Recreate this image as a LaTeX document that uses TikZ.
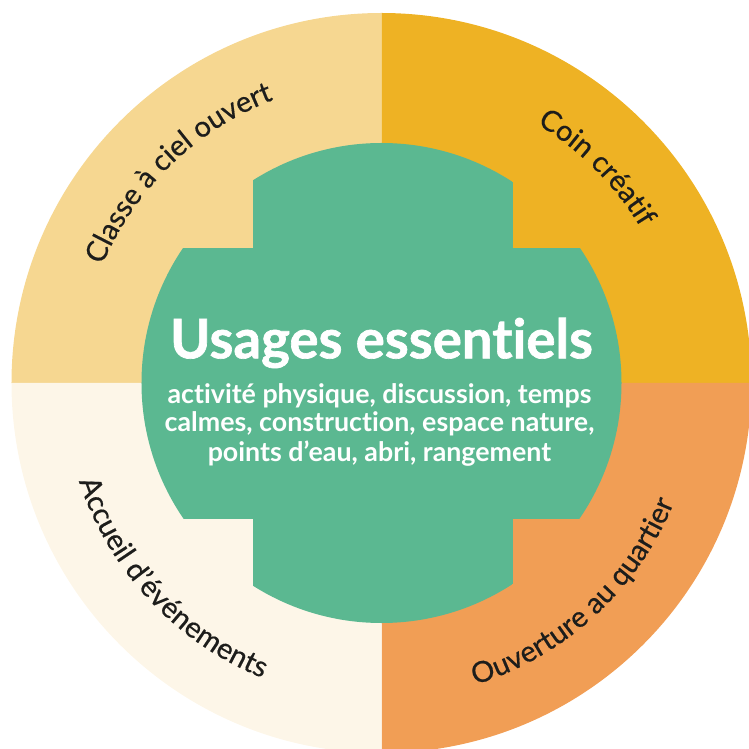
\documentclass[tikz,border=0pt]{standalone}
\usepackage{fontspec}
\setmainfont{Lato}[Ligatures=NoCommon]
\newfontfamily\titlefont{Lato}[Ligatures=NoCommon, BoldFeatures={FakeBold=1.2}]
\newfontfamily\labelfont{Lato}[FakeBold=0.5]
\usetikzlibrary{decorations.text}
\definecolor{ciel}{HTML}{F6D791}
\definecolor{creatif}{HTML}{EEB224}
\definecolor{quartier}{HTML}{F19E55}
\definecolor{accueil}{HTML}{FDF6E8}
\definecolor{usages}{HTML}{5BB891}
\definecolor{labeltext}{HTML}{1D1D1B}
\tikzset{
    quadrant/.style={
        fill=#1
    },
    toplabel/.style={
        decorate,
        decoration={text along path, text align=center, text color=labeltext,
            text={|\labelfont\fontsize{29}{32}\selectfont|#1}}
    },
    title/.style={
        text=white,
        inner sep=0pt,
        font=\titlefont\bfseries\fontsize{54.5}{58}\selectfont
    },
    subtitle/.style={
        text=white,
        inner sep=0pt,
        align=center,
        font=\bfseries\fontsize{26.8}{29}\selectfont
    }
}

\begin{document}
\begin{tikzpicture}[x=1pt, y=1pt]
    \useasboundingbox (-381.5,-366) rectangle (367.5,383);
    \clip (-381.5,-366) rectangle (367.5,383);

    % Quadrants
    \fill[quadrant=ciel] (0,0) -- (180:370) arc[start angle=180, end angle=90, radius=370] -- cycle;
    \fill[quadrant=creatif] (0,0) -- (90:370) arc[start angle=90, end angle=0, radius=370] -- cycle;
    \fill[quadrant=quartier] (0,0) -- (0:370) arc[start angle=0, end angle=-90, radius=370] -- cycle;
    \fill[quadrant=accueil] (0,0) -- (-90:370) arc[start angle=-90, end angle=-180, radius=370] -- cycle;

    % Central cross
    \begin{scope}
        \clip (0,0) circle[radius=240];
        \fill[usages] (-128.5,-250) rectangle (131.5,250);
        \fill[usages] (-250,-136) rectangle (250,135);
    \end{scope}

    % Texts
    \node[title, anchor=base] (usages) at (0,24.7) {Usages essentiels};
    \node[subtitle, anchor=base] (liste) at (-2,-78)
        {activité physique, discussion, temps\\calmes, construction, espace nature,\\points d’eau, abri, rangement};

    % Curved labels
    \path[toplabel={Classe à ciel ouvert}] (174:303) arc[start angle=174, end angle=94, radius=303];
    \path[toplabel={Coin créatif}] (85:302) arc[start angle=85, end angle=5, radius=302];
    \path[toplabel={Ouverture au quartier}] (-87.5:316) arc[start angle=-87.5, end angle=-7.5, radius=316];
    \path[toplabel={Accueil d’événements}] (183:318) arc[start angle=183, end angle=263, radius=318];
\end{tikzpicture}
\end{document}
